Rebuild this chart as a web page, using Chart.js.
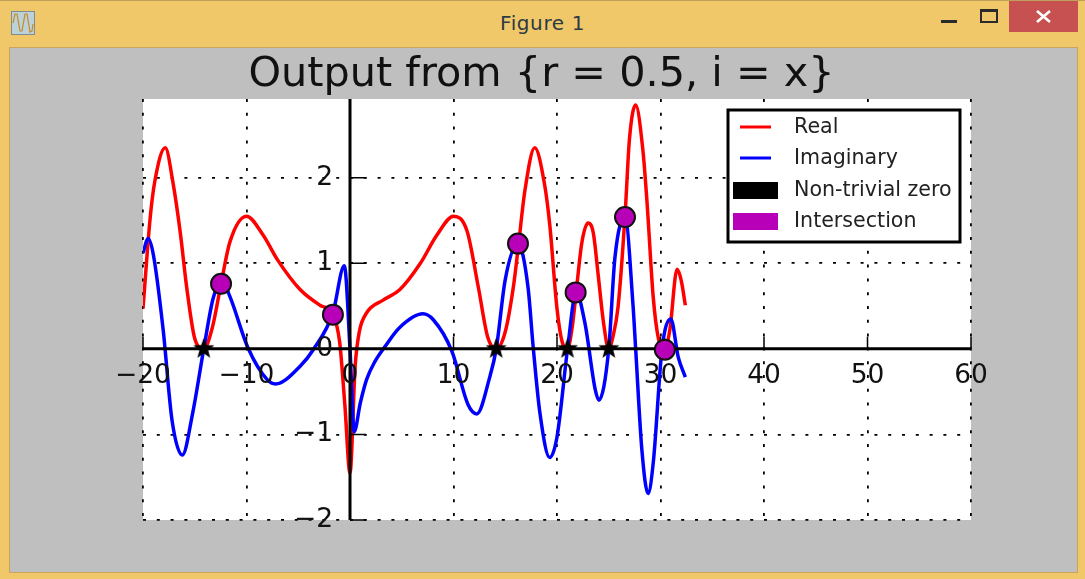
<!DOCTYPE html>
<html>
<head>
<meta charset="utf-8">
<title>Figure 1</title>
<script src="https://cdn.jsdelivr.net/npm/chart.js@4/dist/chart.umd.min.js"></script>
<style>
    html, body { margin: 0; padding: 0; width: 1085px; height: 579px; overflow: hidden; background: #f0c86a; }
    #topline { position: absolute; left: 0; top: 0; width: 1085px; height: 1px; background: #bfa05a; }
    #caption { position: absolute; left: 0; top: 11px; width: 1085px; text-align: center; font: 20px "DejaVu Sans", sans-serif; letter-spacing: 0.6px; color: #2d3a44; }
    #icon { position: absolute; left: 11px; top: 11px; }
    #minimize { position: absolute; left: 941px; top: 20px; width: 16px; height: 3px; background: #2b2b2b; }
    #restore { position: absolute; left: 980px; top: 9px; width: 14px; height: 9px; border: 2px solid #2b2b2b; border-top-width: 3px; }
    #close { position: absolute; left: 1009px; top: 1px; width: 69px; height: 31px; background: #c75050; }
    #figure { position: absolute; left: 9px; top: 47px; width: 1067px; height: 524px; background: #bfbfbf; border: 1px solid #c9a55c; }
    #chart { position: absolute; left: 0; top: 0; filter: blur(0.35px); }
</style>
</head>
<body>
<div id="topline"></div>
<svg id="icon" width="24" height="24" viewBox="0 0 24 24">
    <rect x="0.5" y="0.5" width="23" height="23" fill="#bcd2da" stroke="#7f8c92"/>
    <path d="M2 12 L4 3 L6 3 L9 20 L11 20 L14 3 L16 3 L19 21 L21 20 L22 13" fill="none" stroke="#c98a1e" stroke-width="1.2"/>
</svg>
<div id="caption">Figure 1</div>
<div id="minimize"></div>
<div id="restore"></div>
<div id="close">
    <svg width="69" height="31" viewBox="0 0 69 31">
        <path d="M28 10 L41 21 M41 10 L28 21" stroke="#fff" stroke-width="2.6"/>
    </svg>
</div>
<div id="figure"></div>
<canvas id="chart" width="1085" height="579"></canvas>
<script>
// Values
const chartTitle = 'Output from {r = 0.5, i = x}';
const xTicks = [-20, -10, 0, 10, 20, 30, 40, 50, 60];
const yTicks = [-2, -1, 0, 1, 2];

const realX = [-20, -19.3, -18.84, -17.85, -17.1, -16.4, -15.78, -15, -14.13, -13.3, -12.46, -11.6, -10,
    -8.4, -7, -4.8, -2.9, -1.65, -1, -0.5, 0,
    0.5, 0.9, 1.6, 3.2, 4.8, 6.8, 8.4, 10, 11.3, 12.4, 13.3, 14.13, 15, 15.78, 16.23, 16.9, 17.85,
    18.8, 19.3, 20, 20.5, 21, 21.5, 21.9, 22.4, 23, 23.5, 24, 24.5, 25, 25.4, 25.9, 26.57, 27, 27.6,
    28.3, 28.7, 29.3, 29.8, 30.4, 30.9, 31.6, 32, 32.4];
const realY = [0.47, 1.54, 1.97, 2.35, 1.94, 1.36, 0.72, 0.12, 0, 0.25, 0.76, 1.25, 1.55,
    1.33, 1.04, 0.69, 0.51, 0.4, 0.08, -0.65, -1.45,
    -0.2, 0.2, 0.42, 0.57, 0.69, 1, 1.33, 1.55, 1.38, 0.72, 0.14, 0, 0.2, 0.72, 1.16, 1.85, 2.35,
    1.92, 1.45, 0.47, 0.08, 0, 0.28, 0.72, 1.24, 1.47, 1.36, 0.84, 0.3, 0, 0.14, 0.49, 1.55, 2.45, 2.85,
    2.32, 1.71, 0.6, 0.12, 0, 0.22, 0.93, 0.8, 0.51];

const imagX = [-20, -19.5, -19, -18.05, -17.2, -16.2, -15.2, -14.13, -13.2, -12.3, -11.6, -9.85, -8, -7.2, -4.8, -3.55, -1.65, -0.55, 0,
    0.4, 1, 1.6, 2.4, 3.4, 4.8, 7.05, 8.05, 9.85, 11.4, 12.25, 13.5, 14.13, 15, 16.23, 17.2, 17.7, 18.35, 19.3,
    20, 21.02, 21.85, 22.7, 23.7, 24.05, 25, 25.6, 26.57, 27.35, 27.6, 28.2, 28.8, 29.3, 30.15, 31, 31.7, 32.4];
const imagY = [1.12, 1.29, 1.1, 0.22, -0.83, -1.24, -0.75, 0, 0.6, 0.78, 0.61, 0.01, -0.36, -0.41, -0.2, -0.01, 0.42, 0.97, 0,
    -0.97, -0.63, -0.36, -0.15, 0.03, 0.25, 0.41, 0.34, -0.03, -0.65, -0.76, -0.33, 0, 0.81, 1.23, 0.72, 0.02, -0.75, -1.27,
    -1.03, 0, 0.66, 0.3, -0.48, -0.6, 0, 1.07, 1.54, 0.5, 0, -1.18, -1.69, -1.33, 0, 0.35, -0.09, -0.33];

const zeroX = [-14.13, 14.13, 21.02, 25.01, 30.42];
const zeroY = [0, 0, 0, 0, 0];
const crossX = [-12.46, -1.65, 16.23, 21.8, 26.57, 30.42];
const crossY = [0.76, 0.4, 1.23, 0.66, 1.54, -0.01];

const legendLabels = ['Real', 'Imaginary', 'Non-trivial zero', 'Intersection'];

const RED = '#ff0000';
const BLUE = '#0000ff';
const PURPLE = '#b900b9';

function toPoints(xs, ys) {
    return xs.map((x, i) => ({ x: x, y: ys[i] }));
}

// Filled five point star, Chart.js only has an outline one
function makeStar(radius) {
    const c = document.createElement('canvas');
    c.width = c.height = radius * 2 + 2;
    const g = c.getContext('2d');
    g.translate(radius + 1, radius + 1);
    g.beginPath();
    for (let i = 0; i < 10; i++) {
        const r = i % 2 ? radius * 0.42 : radius;
        const a = -Math.PI / 2 + i * Math.PI / 5;
        g.lineTo(r * Math.cos(a), r * Math.sin(a));
    }
    g.closePath();
    g.fillStyle = '#000';
    g.fill();
    return c;
}

// White plot background
const plotBackground = {
    id: 'plotBackground',
    beforeDraw(chart) {
        const a = chart.chartArea;
        chart.ctx.fillStyle = '#fff';
        chart.ctx.fillRect(a.left, a.top, a.right - a.left, a.bottom - a.top);
    }
};

// The title is centred on the figure, not on the axes
const figureTitle = {
    id: 'figureTitle',
    afterLayout(chart) {
        chart.titleBlock.left -= 15.5;
        chart.titleBlock.right -= 15.5;
    }
};

// Spines and inward ticks go over the curves but under the markers
const spines = {
    id: 'spines',
    beforeDatasetDraw(chart, args) {
        if (args.index !== 2) return;
        const ctx = chart.ctx;
        const a = chart.chartArea;
        const x0 = chart.scales.x.getPixelForValue(0);
        const y0 = chart.scales.y.getPixelForValue(0);
        ctx.save();
        ctx.strokeStyle = '#000';
        ctx.lineWidth = 1.5;
        ctx.beginPath();
        xTicks.forEach(v => {
            const px = chart.scales.x.getPixelForValue(v);
            ctx.moveTo(px, y0);
            ctx.lineTo(px, y0 - 12);
        });
        yTicks.forEach(v => {
            const py = chart.scales.y.getPixelForValue(v);
            ctx.moveTo(x0, py);
            ctx.lineTo(x0 + 16, py);
        });
        ctx.stroke();
        ctx.lineWidth = 3;
        ctx.beginPath();
        ctx.moveTo(a.left, y0);
        ctx.lineTo(a.right, y0);
        ctx.moveTo(x0, a.top);
        ctx.lineTo(x0, a.bottom);
        ctx.stroke();
        ctx.restore();
    }
};

// Legend with line keys and patch keys, boxed inside the axes
const boxedLegend = {
    id: 'boxedLegend',
    afterDraw(chart) {
        const ctx = chart.ctx;
        const rows = [127, 158, 190, 221];
        ctx.save();
        ctx.fillStyle = '#fff';
        ctx.fillRect(728, 110, 232, 132);
        ctx.strokeStyle = '#000';
        ctx.lineWidth = 3;
        ctx.strokeRect(728, 110, 232, 132);
        ctx.strokeStyle = RED;
        ctx.beginPath(); ctx.moveTo(740, rows[0]); ctx.lineTo(771, rows[0]); ctx.stroke();
        ctx.strokeStyle = BLUE;
        ctx.beginPath(); ctx.moveTo(740, rows[1]); ctx.lineTo(771, rows[1]); ctx.stroke();
        ctx.fillStyle = '#000';
        ctx.fillRect(733, rows[2] - 8, 45, 17);
        ctx.fillStyle = PURPLE;
        ctx.fillRect(733, rows[3] - 8, 45, 17);
        ctx.fillStyle = '#222';
        ctx.font = '20.6px "DejaVu Sans"';
        ctx.textBaseline = 'middle';
        legendLabels.forEach((label, i) => ctx.fillText(label, 794, rows[i] + 1));
        ctx.restore();
    }
};

const gridStyle = { color: '#000', lineWidth: 1.8, drawTicks: false };
const gridBorder = { display: false, dash: [3, 10.8] };
const tickFont = { family: '"DejaVu Sans"', size: 26.5 };

function tickLabel(value) {
    return String(value).replace('-', '\u2212');
}

new Chart(document.getElementById('chart'), {
    type: 'line',
    data: {
        datasets: [
            { label: legendLabels[0], data: toPoints(realX, realY), borderColor: RED, borderWidth: 3.5, pointRadius: 0, cubicInterpolationMode: 'monotone', order: 4 },
            { label: legendLabels[1], data: toPoints(imagX, imagY), borderColor: BLUE, borderWidth: 3.5, pointRadius: 0, cubicInterpolationMode: 'monotone', order: 3 },
            { label: legendLabels[2], data: toPoints(zeroX, zeroY), showLine: false, pointStyle: makeStar(11), pointRadius: 11, order: 2 },
            { label: legendLabels[3], data: toPoints(crossX, crossY), showLine: false, pointRadius: 10, pointBackgroundColor: PURPLE, pointBorderColor: '#111', pointBorderWidth: 2, order: 1 }
        ]
    },
    options: {
        responsive: false,
        animation: false,
        layout: { padding: { left: 143, right: 114, top: 0, bottom: 59 } },
        plugins: {
            legend: { display: false },
            tooltip: { enabled: false },
            title: {
                display: true,
                text: chartTitle,
                color: '#111',
                font: { family: '"DejaVu Sans"', size: 41.4, weight: 'normal', lineHeight: 1 },
                padding: { top: 55, bottom: 2.6 }
            }
        },
        scales: {
            x: {
                type: 'linear',
                position: { y: 0 },
                min: -20,
                max: 60,
                afterBuildTicks: s => { s.ticks = xTicks.map(v => ({ value: v })); },
                afterFit: s => { s.paddingLeft = 0; s.paddingRight = 0; },
                grid: gridStyle,
                border: gridBorder,
                ticks: { font: tickFont, color: '#111', padding: 11, maxRotation: 0, autoSkip: false, z: 1, callback: tickLabel }
            },
            y: {
                type: 'linear',
                position: { x: 0 },
                min: -2,
                max: 2.92,
                afterBuildTicks: s => { s.ticks = yTicks.map(v => ({ value: v })); },
                afterFit: s => { s.paddingTop = 0; s.paddingBottom = 0; },
                grid: gridStyle,
                border: gridBorder,
                // padding is ignored when the axis sits on a value, so pad the label itself
                ticks: { font: tickFont, color: '#111', autoSkip: false, z: 1, callback: v => tickLabel(v) + '\u00a0\u00a0' }
            }
        }
    },
    plugins: [plotBackground, figureTitle, spines, boxedLegend]
});
</script>
</body>
</html>
